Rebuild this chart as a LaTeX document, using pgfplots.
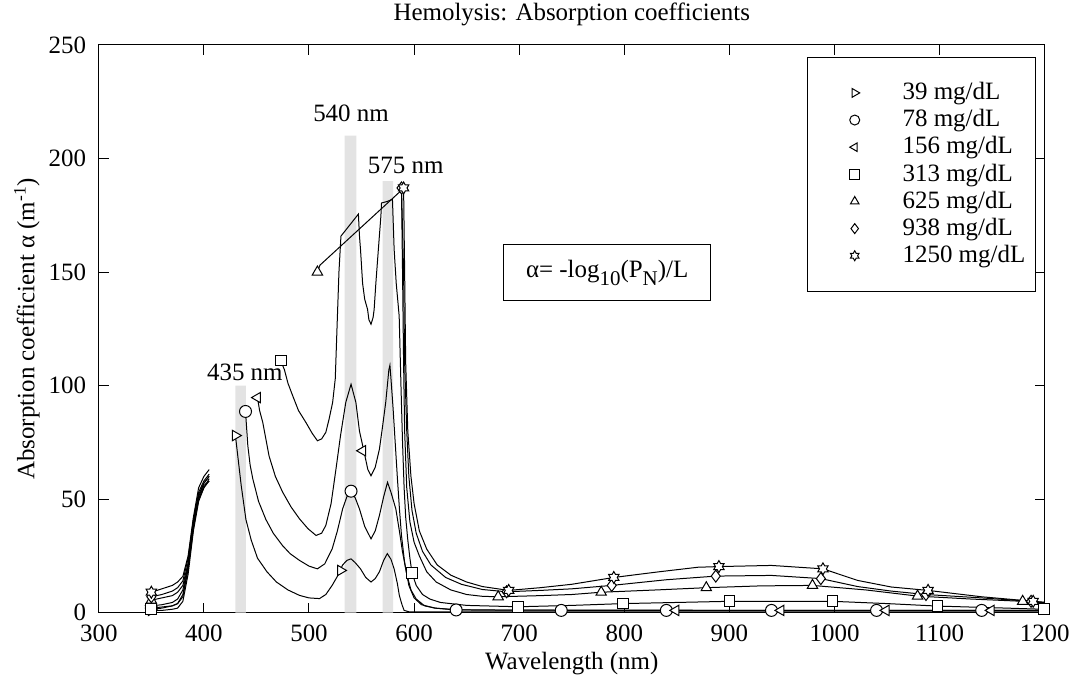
\documentclass[border=0pt]{standalone}
\usepackage{fontspec}
\setmainfont{Liberation Serif}
\usepackage{pgfplots}
\pgfplotsset{compat=1.18}

\pgfdeclareplotmark{hexagram}{%
  \pgfpathmoveto{\pgfpointpolar{90}{\pgfplotmarksize}}%
  \pgfpathlineto{\pgfpointpolar{120}{0.577\pgfplotmarksize}}%
  \pgfpathlineto{\pgfpointpolar{150}{\pgfplotmarksize}}%
  \pgfpathlineto{\pgfpointpolar{180}{0.577\pgfplotmarksize}}%
  \pgfpathlineto{\pgfpointpolar{210}{\pgfplotmarksize}}%
  \pgfpathlineto{\pgfpointpolar{240}{0.577\pgfplotmarksize}}%
  \pgfpathlineto{\pgfpointpolar{270}{\pgfplotmarksize}}%
  \pgfpathlineto{\pgfpointpolar{300}{0.577\pgfplotmarksize}}%
  \pgfpathlineto{\pgfpointpolar{330}{\pgfplotmarksize}}%
  \pgfpathlineto{\pgfpointpolar{0}{0.577\pgfplotmarksize}}%
  \pgfpathlineto{\pgfpointpolar{30}{\pgfplotmarksize}}%
  \pgfpathlineto{\pgfpointpolar{60}{0.577\pgfplotmarksize}}%
  \pgfpathclose
  \pgfusepathqfillstroke
}
\newcommand{\sub}[1]{\raisebox{-0.32em}{\fontsize{10.5bp}{10.5bp}\selectfont #1}}

\begin{document}
\fontsize{12.5bp}{15bp}\selectfont
\begin{tikzpicture}
\begin{axis}[
  scale only axis,
  width=474bp, height=284.5bp,
  xmin=300, xmax=1200, ymin=0, ymax=250,
  xtick={300,400,...,1200}, ytick={0,50,...,250},
  tick align=inside,
  major tick length=5bp,
  axis line style={line width=0.5bp},
  every tick/.style={line width=0.5bp, black},
  /pgf/number format/assume math mode=true,
  /pgf/number format/set thousands separator={},
  yticklabel style={xshift=-2bp},
  xticklabel style={yshift=-2bp},
  title={Hemolysis: Absorption coefficients},
  every axis title/.style={at={(axis description cs:0.5,1.0545)}, anchor=center, inner sep=0pt},
  xlabel={Wavelength (nm)},
  ylabel={Absorption coefficient α (m\textsuperscript{-1})},
  every axis x label/.style={at={(axis description cs:0.5,-0.0896)}, anchor=center, inner sep=0pt},
  every axis y label/.style={at={(axis description cs:-0.076,0.5)}, anchor=center, rotate=90, inner sep=0pt},
  unbounded coords=jump,
  legend style={at={(axis description cs:1,1)}, anchor=north east, xshift=-4.5bp, yshift=-6bp,
    draw=black, line width=0.5bp, inner xsep=5bp, inner ysep=11bp, row sep=0pt,
    nodes={inner sep=0pt, text depth=0.15em}},
  legend cell align=left,
  legend image code/.code={%
    \path[draw=none, fill=none] (-18.5bp,-6.8bp) rectangle (24bp,6.8bp);
    \draw[#1, mark size=2.5bp] plot coordinates {(0bp,0bp)};},
  mark size=3bp,
  every axis plot/.append style={line width=0.5bp},
]
\coordinate (O) at (rel axis cs:0,0);
% grey wavelength bands
\addplot[fill=black!11, draw=none, forget plot] coordinates {(430,0) (440,0) (440,100) (430,100)} \closedcycle;
\addplot[fill=black!11, draw=none, forget plot] coordinates {(534,0) (545,0) (545,210) (534,210)} \closedcycle;
\addplot[fill=black!11, draw=none, forget plot] coordinates {(570,0) (580,0) (580,190) (570,190)} \closedcycle;

% 39 mg/dL
\addplot[black, forget plot] coordinates {
(350,1) (360,1) (370,1.5) (375,2) (380,5) (385,17) (390,36) (395,49) (400,55) (405,58) (420,nan)
(430,78) (433,66) (435.5,56) (440,41) (445,32) (451,24) (460,18) (469,13.5) (480,10) (491,7.6) (500,6.5) (510,6.2)
(516,8) (522,12) (527,16) (532,21) (536,23) (540,23.7) (544,22) (549,19.3) (554,15.5) (559,13.5) (563,15) (567,18)
(571,23) (574.5,26) (578,23.5) (581,19.3) (584,13) (586,7.5) (588.5,3.5) (590.5,1) (595,0.4) (620,0.3) (1200,0.3)};
% 78 mg/dL
\addplot[black, forget plot] coordinates {
(350,2) (360,2.5) (370,3) (375,4) (380,7) (385,19) (390,37) (395,50) (400,55) (405,59) (420,nan)
(439.6,88.6) (441.8,73.5) (444,65) (446.5,59) (452,49) (459,41) (466,35) (474.7,29.6) (482,26) (491,23) (500,20.5)
(508,19.3) (515,21.5) (522,28) (527,36) (532,45.7) (536,51) (540,53.5) (544,50.5) (548,45.7) (553,38) (559,32.5)
(563,36) (567,42.8) (571,51) (574.7,57.4) (578,53) (582.6,45.7) (586,36) (589,26.7) (593,17) (597,10) (602,6)
(610,3) (620,2) (640,1.2) (700,1.1) (800,1) (900,1) (1000,1) (1100,1) (1200,1)};
% 156 mg/dL
\addplot[black, forget plot] coordinates {
(350,3) (360,3.5) (370,4.5) (375,6) (380,10) (385,21) (390,39) (395,51) (400,57) (405,60) (420,nan)
(451,94.7) (453,89) (456,83.8) (462,69) (468,60) (475,53) (483,46.5) (491,41.3) (499,37) (506.7,34) (512,35)
(516,38.4) (521,48) (525.6,63) (530,78) (535,92.6) (540,100.6) (544.6,92.6) (548,80) (552.5,70.6) (556,63)
(559,60.3) (563,64) (567,72) (570,82) (573,92.6) (576,107) (577,109) (578,103) (580,90) (582,75) (584,60)
(586,46) (588,34) (591,22) (595,12) (600,6.5) (607,3.5) (620,2) (640,1.3) (700,1.1) (1200,1)};
% 313 mg/dL
\addplot[black, forget plot] coordinates {
(350,1.5) (360,2) (370,3) (375,4) (380,8) (385,20) (390,38) (395,50) (400,56) (405,58) (420,nan)
(473,111) (476.6,107) (480,101) (484.5,95.5) (490,89) (497,83.8) (503,79) (508,75.7) (512,76.5) (516,79.4)
(519,85) (522.5,92.6) (525,103) (527,130) (528.5,150) (530.4,165.8) (547,175.5) (548,166) (549,160) (551,145)
(553,138) (555.7,133.6) (557,129) (559,127) (561,130) (562,133.6) (563.6,145) (566,160) (568.4,174.6) (569,180.4)
(574,181) (579.4,182) (581,160) (583,145) (585.8,130.6) (587.5,100) (589,75) (590.5,55) (592,42) (594,32)
(596,24) (598,17.5) (602,12) (608,8) (615,6) (625,4.5) (650,3.2) (699,2.6) (750,3.2) (799,4) (850,4.5) (900,5)
(950,5) (998,5) (1050,4) (1098,2.9) (1150,2.2) (1199,1.5) (1200,1.5)};
% 625 mg/dL
\addplot[black, forget plot] coordinates {
(350,5.5) (360,6.5) (370,7.5) (375,9) (380,12) (385,22) (390,40) (395,52) (400,57) (405,60) (420,nan)
(508,150) (510.4,153) (588,186) (589,150) (590,110) (591,80) (593,55) (596,40) (600,31) (605,25) (612,18)
(621,13.5) (635,10) (650,8) (665,7.2) (680,7) (720,7.5) (750,8) (778,9) (830,10) (878,11) (930,11.8) (979,12)
(1030,10) (1079,7.3) (1130,6) (1179,5) (1200,4.5)};
% 938 mg/dL
\addplot[black, forget plot] coordinates {
(350,7) (360,8) (370,9.5) (375,11) (380,14) (385,24) (390,41) (395,53) (400,58) (405,61) (420,nan)
(588,187) (590,150) (591,110) (593,80) (595,60) (598,45) (602,35) (608,27) (616,21) (630,15.5) (645,12.5)
(665,10.2) (688,9.2) (720,9.8) (750,10.5) (788,12) (840,14.5) (887,16.1) (940,16.4) (987,15) (1022,11.5)
(1054,9.5) (1087,8) (1140,6.5) (1187,5) (1200,4.2)};
% 1250 mg/dL
\addplot[black, forget plot] coordinates {
(350,9) (360,10.5) (370,12) (375,13.5) (380,16) (385,25) (390,42) (395,55) (400,60) (405,63) (420,nan)
(590,187) (591,150) (592,110) (594,80) (597,60) (600,48) (605,36) (612,28) (622,21) (635,16.5) (650,13.5)
(665,11.5) (690,9.8) (720,11) (750,12.5) (790,15.5) (833,18) (870,20) (890,20.3) (940,20.8) (989,19.3)
(1022,14.2) (1054,11.3) (1089,9.8) (1140,7) (1189,5) (1200,4.6)};

% markers
\addplot[only marks, mark=triangle*, mark options={rotate=-90, fill=white, draw=black, line width=0.5bp}]
 coordinates {(350,1) (430,78) (530,18.6)};
\addlegendentry{39 mg/dL}
\addplot[only marks, mark=*, mark options={fill=white, draw=black, line width=0.5bp}]
 coordinates {(350,2) (439.6,88.6) (540,53.5) (640,1.2) (740,1) (840,1) (940,1) (1040,1) (1140,1)};
\addlegendentry{78 mg/dL}
\addplot[only marks, mark=triangle*, mark options={rotate=90, fill=white, draw=black, line width=0.5bp}]
 coordinates {(350,3) (451,94.7) (551,71.3) (849,1) (949,1) (1049,1) (1149,1)};
\addlegendentry{156 mg/dL}
\addplot[only marks, mark=square*, mark size=2.7bp, mark options={fill=white, draw=black, line width=0.5bp}]
 coordinates {(350,1.5) (473,111) (598,17.5) (699,2.6) (799,4) (900,5) (998,5) (1098,2.9) (1199,1.5)};
\addlegendentry{313 mg/dL}
\addplot[only marks, mark=triangle*, mark options={fill=white, draw=black, line width=0.5bp}]
 coordinates {(350,5.5) (508,150) (680,7) (778,9) (878,11) (979,12) (1079,7.3) (1179,5)};
\addlegendentry{625 mg/dL}
\addplot[only marks, mark=diamond*, mark options={fill=white, draw=black, line width=0.5bp}]
 coordinates {(350,7) (588,187) (688,9.2) (788,12) (887,16.1) (987,15) (1087,8) (1187,5)};
\addlegendentry{938 mg/dL}
\addplot[only marks, mark=hexagram, mark options={fill=white, draw=black, line width=0.5bp}]
 coordinates {(350,9) (590,187) (690,9.8) (790,15.5) (890,20.3) (989,19.3) (1089,9.8) (1189,5)};
\addlegendentry{1250 mg/dL}

\node at (axis cs:439,106) {435 nm};
\node at (axis cs:540,220) {540 nm};
\node at (axis cs:592,197) {575 nm};
\node[draw=black, line width=0.5bp, fill=white, minimum width=103.5bp, minimum height=28bp, inner sep=0pt]
  at (axis cs:783.7,149.8) {α= -log\sub{10}(P\sub{N})/L};
\end{axis}
\path (O) ++(-49.5bp,-37bp) rectangle ++(539bp,344bp);
\end{tikzpicture}
\end{document}
